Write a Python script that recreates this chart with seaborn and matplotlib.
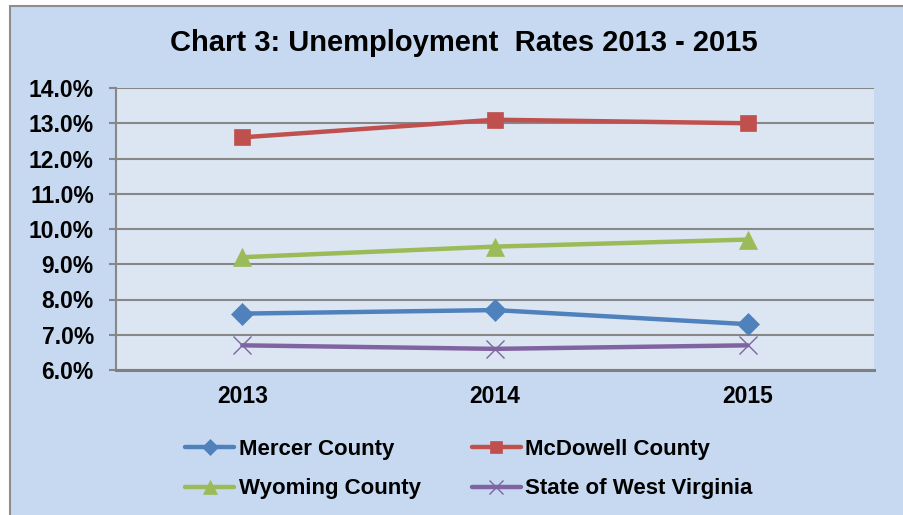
import matplotlib
matplotlib.use('Agg')
import matplotlib.pyplot as plt
import seaborn as sns
import pandas as pd
from matplotlib.patches import Rectangle
from matplotlib.ticker import FuncFormatter, MultipleLocator, FixedLocator

# Data
years = ['2013', '2014', '2015']
mercer = [7.6, 7.7, 7.3]
mcdowell = [12.6, 13.1, 13.0]
wyoming = [9.2, 9.5, 9.7]
west_virginia = [6.7, 6.6, 6.7]

series_names = ['Mercer County', 'McDowell County', 'Wyoming County', 'State of West Virginia']
series_values = [mercer, mcdowell, wyoming, west_virginia]
colors = ['#4F81BD', '#C0504D', '#9BBB59', '#8064A2']
markers = ['D', 's', '^', 'x']
marker_sizes = [11, 12, 13, 13]

sns.set_style('white')
plt.rcParams['font.family'] = ['Liberation Sans', 'DejaVu Sans']
plt.rcParams['font.weight'] = 'bold'
plt.rcParams['text.color'] = 'black'

W, H = 904, 515
fig = plt.figure(figsize=(W / 100, H / 100), dpi=100, facecolor='white')

# chart area background with grey left/top border
fig.patches.append(Rectangle((10 / W, -0.05), 1.2, 1 - 6 / H + 0.05, transform=fig.transFigure,
                             facecolor='#C6D9F1', edgecolor='#8E8E8E', linewidth=1.5, zorder=-5))

ax = fig.add_axes([116 / W, 1 - 370 / H, (874 - 116) / W, (370 - 88) / H])
ax.set_facecolor('#DCE6F2')

for name, vals, c, m, ms in zip(series_names, series_values, colors, markers, marker_sizes):
    df = pd.DataFrame({'year': years, 'rate': vals})
    sns.lineplot(data=df, x='year', y='rate', ax=ax, color=c, linewidth=3.2, marker=m,
                 markersize=ms, markeredgecolor=c, markeredgewidth=1.0 if m == 'x' else 0.5,
                 label=name, sort=False)

ax.set_xlim(-0.5, 2.5)
ax.set_ylim(6, 14)
ax.yaxis.set_major_locator(MultipleLocator(1))
ax.yaxis.set_major_formatter(FuncFormatter(lambda v, p: f'{v:.1f}%'))
ax.grid(axis='y', color='#878787', linewidth=1.5)
ax.grid(axis='x', visible=False)
ax.set_axisbelow(True)

ax.xaxis.set_minor_locator(FixedLocator([-0.5, 0.5, 1.5, 2.5]))
ax.tick_params(axis='x', which='major', length=0, pad=11, labelsize=16.5, labelcolor='black')
ax.tick_params(axis='x', which='minor', length=6, width=1.5, color='#878787', direction='out')
ax.tick_params(axis='y', which='major', length=5, width=1.5, color='#878787', pad=11,
               labelsize=16.5, left=True, labelcolor='black')
for lbl in ax.get_xticklabels() + ax.get_yticklabels():
    lbl.set_fontweight('bold')

ax.set_xlabel('')
ax.set_ylabel('')
for s in ['top', 'right']:
    ax.spines[s].set_visible(False)
ax.spines['left'].set_color('#878787')
ax.spines['left'].set_linewidth(1.5)
ax.spines['bottom'].set_color('#7F7F7F')
ax.spines['bottom'].set_linewidth(2.2)

fig.text(464 / W, 1 - 43 / H, 'Chart 3: Unemployment  Rates 2013 - 2015', ha='center', va='center',
         fontsize=21, fontweight='bold', color='black')

handles, labels = ax.get_legend_handles_labels()
order = [0, 2, 1, 3]
leg = ax.legend([handles[i] for i in order], [labels[i] for i in order], ncol=2,
                loc='center', bbox_to_anchor=(469 / W, 1 - 469 / H), bbox_transform=fig.transFigure,
                frameon=False, fontsize=16, handlelength=2.2, handletextpad=0.2,
                columnspacing=2.3, labelspacing=0.85, markerscale=0.75)
for t in leg.get_texts():
    t.set_fontweight('bold')
    t.set_color('black')

fig.savefig('out.png', dpi=100, facecolor=fig.get_facecolor())
